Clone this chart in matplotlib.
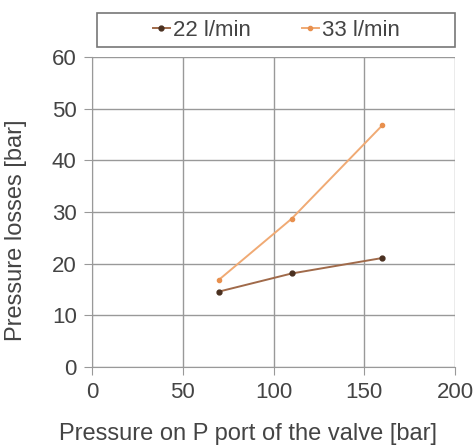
import matplotlib
matplotlib.use("Agg")
import matplotlib.pyplot as plt
from matplotlib.patches import Rectangle

plt.rcParams['font.family'] = ['Liberation Sans', 'DejaVu Sans']

# Data
pressure = [70, 110, 160]
loss_22 = [14.6, 18.1, 21.1]
loss_33 = [16.9, 28.7, 46.8]
labels = ["22 l/min", "33 l/min"]

fig = plt.figure(figsize=(4.76, 4.47), dpi=100)
ax = fig.add_axes([92/476, 1 - 367/447, 363/476, 310/447])

ax.plot(pressure, loss_22, color="#a06a4a", marker="o", markersize=3.5,
        markerfacecolor="#4a3020", markeredgecolor="#4a3020", lw=1.4, label=labels[0])
ax.plot(pressure, loss_33, color="#f0aa74", marker="o", markersize=3,
        markerfacecolor="#e8904e", markeredgecolor="#e8904e", lw=1.4, label=labels[1])

ax.set_xlim(0, 200)
ax.set_ylim(0, 60)
ax.set_xticks([0, 50, 100, 150, 200])
ax.set_yticks([0, 10, 20, 30, 40, 50, 60])
ax.grid(True, color="#999999", lw=1)
ax.set_axisbelow(True)
for s in ["top", "right"]:
    ax.spines[s].set_visible(False)
for s in ["left", "bottom"]:
    ax.spines[s].set_color("#999999")
ax.tick_params(colors="#999999", labelcolor="#444444", labelsize=16, length=6, pad=5)

ax.set_xlabel("Pressure on P port of the valve [bar]", fontsize=17, color="#444444")
ax.set_ylabel("Pressure losses [bar]", fontsize=17, color="#444444")
ax.xaxis.set_label_coords(0.43, -0.18)
ax.yaxis.set_label_coords(-0.18, 0.44)

# legend box across the top
fig.patches.append(Rectangle((97/476, 1 - 47/447), 358/476, 34/447, transform=fig.transFigure,
                             facecolor="white", edgecolor="#777777", lw=1.2))
leg = fig.legend(loc="center", bbox_to_anchor=(276/476, 1 - 30/447), ncol=2, frameon=False,
                 fontsize=16, handlelength=0.8, handletextpad=0.1, columnspacing=2.3,
                 borderaxespad=0)
for t in leg.get_texts():
    t.set_color("#444444")

fig.savefig("out.png", dpi=100)
